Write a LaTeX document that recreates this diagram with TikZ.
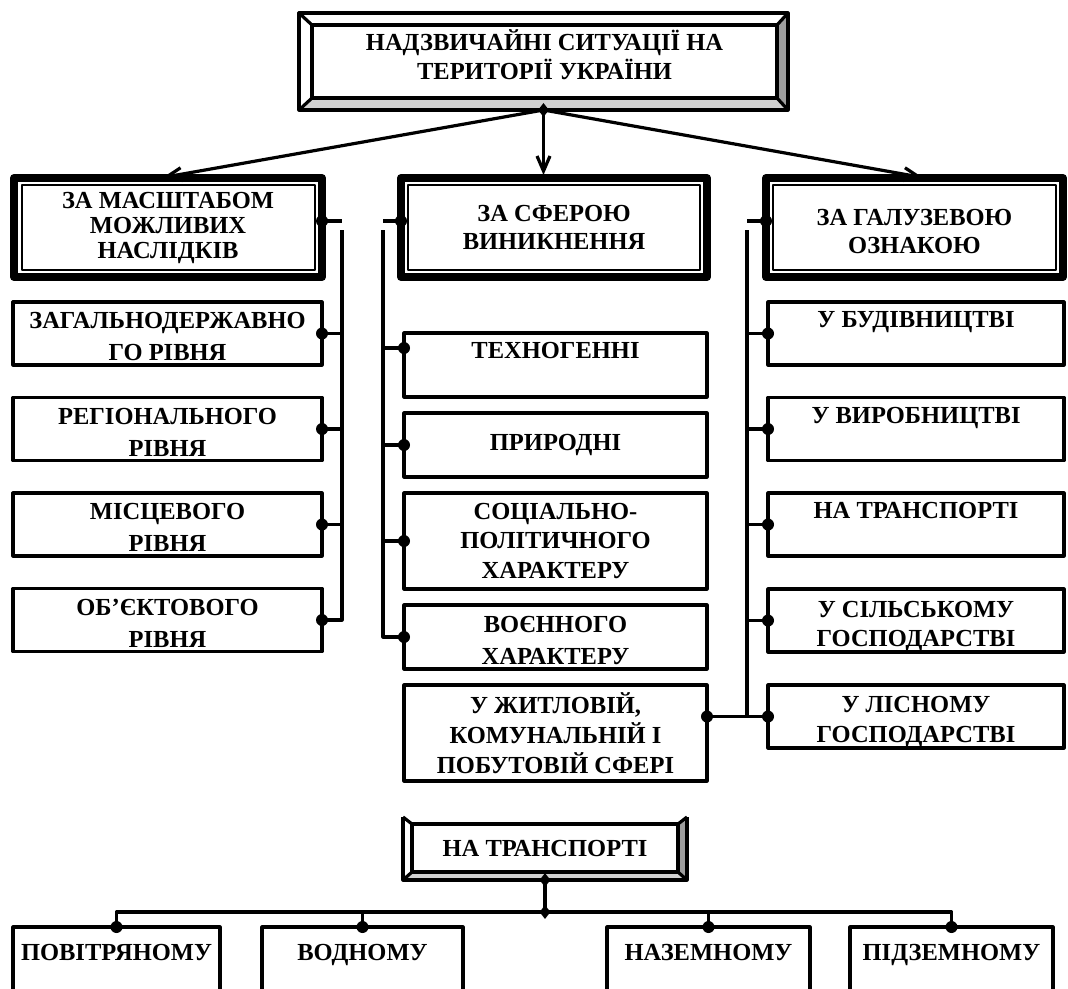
\documentclass[tikz,border=0pt]{standalone}
\usepackage{fontspec}
\setmainfont{Liberation Serif}[BoldFont={Liberation Serif Bold}]
\usetikzlibrary{positioning, arrows.meta, shapes.geometric, calc}
\definecolor{bevlight}{gray}{0.82}
\definecolor{bevdark}{gray}{0.62}
\tikzset{
  subbox/.style={draw, rectangle, line width=3.2pt, inner sep=0pt, outer sep=0pt, align=center,
    font=\bfseries\fontsize{24.5}{32}\selectfont},
  catbox/.style={subbox, line width=8pt, font=\bfseries\fontsize{24.5}{28}\selectfont},
  bevbox/.style={rectangle, inner sep=0pt, outer sep=0pt, align=center, font=\bfseries\fontsize{24.5}{29}\selectfont},
  uptext/.style={text height=17pt, text depth=29pt},
  lowtext/.style={text height=54pt, text depth=0pt},
  jdot/.style={circle, fill, inner sep=0pt, minimum size=12pt},
  dmd/.style={diamond, fill, inner sep=0pt, minimum width=11pt, minimum height=14pt},
  link/.style={line width=3.2pt},
  arr/.style={link, shorten >=3pt, -{Straight Barb[length=15pt,width=13pt]}},
}

\begin{document}
\begin{tikzpicture}[x=1pt, y=-1pt, line join=round]
\useasboundingbox (0,0) rectangle (1068,988);
\clip (0,0) rectangle (1068,988);

% title box with bevel
\node[bevbox, minimum width=465pt, minimum height=73pt, text depth=14pt] (ttl) at (544.5,61.5) {НАДЗВИЧАЙНІ СИТУАЦІЇ НА\\ТЕРИТОРІЇ УКРАЇНИ};
\coordinate (tA) at ([shift={(-13pt,12pt)}]ttl.north west);
\coordinate (tB) at ([shift={(11pt,12pt)}]ttl.north east);
\coordinate (tC) at ([shift={(11pt,-12pt)}]ttl.south east);
\coordinate (tD) at ([shift={(-13pt,-12pt)}]ttl.south west);
\fill[bevlight] (tD) -- (tC) -- (ttl.south east) -- (ttl.south west) -- cycle;
\fill[bevdark] (tB) -- (tC) -- (ttl.south east) -- (ttl.north east) -- cycle;
\draw[link] (tA) rectangle (tC);
\draw[link] (ttl.north west) rectangle (ttl.south east);
\draw[link] (tA) -- (ttl.north west) (tB) -- (ttl.north east) (tC) -- (ttl.south east) (tD) -- (ttl.south west);

% three groups
\node[catbox, minimum width=308pt, minimum height=99pt, font=\bfseries\fontsize{24.5}{25}\selectfont] (c1) at (168,227.5) {ЗА МАСШТАБОМ\\МОЖЛИВИХ\\НАСЛІДКІВ};
\node[catbox, minimum width=306pt, minimum height=99pt] (c2) at (554,227.5) {ЗА СФЕРОЮ\\ВИНИКНЕННЯ};
\node[catbox, minimum width=297pt, minimum height=99pt, text height=51pt, text depth=0pt] (c3) at (914.5,227.5) {ЗА ГАЛУЗЕВОЮ\\ОЗНАКОЮ};
\draw[line width=2.2pt] ([shift={(8pt,-7pt)}]c1.north west) rectangle ([shift={(-7pt,7pt)}]c1.south east);
\draw[line width=2.2pt] ([shift={(7pt,-7pt)}]c2.north west) rectangle ([shift={(-7pt,7pt)}]c2.south east);
\draw[line width=2.2pt] ([shift={(7pt,-7pt)}]c3.north west) rectangle ([shift={(-7pt,7pt)}]c3.south east);

\node[dmd] (tdm) at ($(tD)!0.5!(tC)$) {};
\draw[arr] (tdm.center) -- ([xshift=-8pt]c1.north);
\draw[arr] (tdm.center) -- (tdm |- c2.north);
\draw[arr] (tdm.center) -- ([xshift=11pt]c3.north);

% left column
\node[subbox, lowtext, minimum width=309pt, minimum height=63pt] (l1) at (167.5,333.5) {ЗАГАЛЬНОДЕРЖАВНО\\ГО РІВНЯ};
\node[subbox, lowtext, minimum width=309pt, minimum height=63pt, below=32.5pt of l1] (l2) {РЕГІОНАЛЬНОГО\\РІВНЯ};
\node[subbox, lowtext, minimum width=309pt, minimum height=63pt, below=32.5pt of l2] (l3) {МІСЦЕВОГО\\РІВНЯ};
\node[subbox, lowtext, minimum width=309pt, minimum height=63pt, below=32.5pt of l3] (l4) {ОБ’ЄКТОВОГО\\РІВНЯ};

% middle column
\node[subbox, uptext, text depth=31pt, minimum width=303pt, minimum height=64pt] (m1) at (555.5,365) {ТЕХНОГЕННІ};
\node[subbox, minimum width=303pt, minimum height=64pt, below=16pt of m1] (m2) {ПРИРОДНІ};
\node[subbox, minimum width=303pt, minimum height=96pt, below=16pt of m2, font=\bfseries\fontsize{24.5}{29.5}\selectfont] (m3) {СОЦІАЛЬНО-\\ПОЛІТИЧНОГО\\ХАРАКТЕРУ};
\node[subbox, lowtext, minimum width=303pt, minimum height=64pt, below=16pt of m3] (m4) {ВОЄННОГО\\ХАРАКТЕРУ};
\node[subbox, minimum width=303pt, minimum height=96pt, below=16pt of m4, font=\bfseries\fontsize{24.5}{30}\selectfont] (m5) {У ЖИТЛОВІЙ,\\КОМУНАЛЬНІЙ І\\ПОБУТОВІЙ СФЕРІ};

% right column
\node[subbox, uptext, minimum width=296pt, minimum height=63pt] (r1) at (916,333.5) {У БУДІВНИЦТВІ};
\node[subbox, uptext, minimum width=296pt, minimum height=63pt, below=32.5pt of r1] (r2) {У ВИРОБНИЦТВІ};
\node[subbox, uptext, minimum width=296pt, minimum height=63pt, below=32.5pt of r2] (r3) {НА ТРАНСПОРТІ};
\node[subbox, minimum width=296pt, minimum height=63pt, below=33pt of r3, text height=52pt, text depth=0pt, font=\bfseries\fontsize{24.5}{29}\selectfont] (r4) {У СІЛЬСЬКОМУ\\ГОСПОДАРСТВІ};
\node[subbox, minimum width=296pt, minimum height=63pt, below=33pt of r4, text height=52pt, text depth=0pt, font=\bfseries\fontsize{24.5}{30}\selectfont] (r5) {У ЛІСНОМУ\\ГОСПОДАРСТВІ};

% dots
\node[jdot] (c1d) at ([yshift=6.5pt]c1.east) {};
\node[jdot] (c2d) at ([yshift=6.5pt]c2.west) {};
\node[jdot] (c3d) at ([yshift=6.5pt]c3.west) {};
\node[jdot] (l1d) at (l1.east) {};
\node[jdot] (l2d) at (l2.east) {};
\node[jdot] (l3d) at (l3.east) {};
\node[jdot] (l4d) at (l4.east) {};
\node[jdot] (m1d) at ([yshift=17pt]m1.west) {};
\node[jdot] (m2d) at (m2.west) {};
\node[jdot] (m3d) at (m3.west) {};
\node[jdot] (m4d) at (m4.west) {};
\node[jdot] (r1d) at (r1.west) {};
\node[jdot] (r2d) at (r2.west) {};
\node[jdot] (r3d) at (r3.west) {};
\node[jdot] (r4d) at (r4.west) {};
\node[jdot] (r5d) at (r5.west) {};
\node[jdot] (m5d) at (m5.east |- r5.west) {};

% buses
\coordinate (lbus) at (342,230);
\coordinate (mbus) at (383,230);
\coordinate (rbus) at (747,230);
\draw[link] (c1d.center) -- (c1d -| lbus);
\draw[link] (c2d.center) -- (c2d -| mbus);
\draw[link] (c3d.center) -- (c3d -| rbus);
\draw[link] (lbus) |- (l4d.center);
\draw[link] (l1d.center) -- (l1d -| lbus) (l2d.center) -- (l2d -| lbus) (l3d.center) -- (l3d -| lbus);
\draw[link] (mbus) |- (m4d.center);
\draw[link] (m1d.center) -- (m1d -| mbus) (m2d.center) -- (m2d -| mbus) (m3d.center) -- (m3d -| mbus);
\draw[link] (rbus) |- (r5d.center);
\draw[link] (r1d.center) -- (r1d -| rbus) (r2d.center) -- (r2d -| rbus) (r3d.center) -- (r3d -| rbus) (r4d.center) -- (r4d -| rbus);
\draw[link] (m5d.center) -- (r5d.center);

% transport box with bevel
\node[bevbox, minimum width=266pt, minimum height=48pt] (trn) at (545,848) {НА ТРАНСПОРТІ};
\coordinate (bA) at ([shift={(-9pt,7pt)}]trn.north west);
\coordinate (bB) at ([shift={(9pt,7pt)}]trn.north east);
\coordinate (bC) at ([shift={(9pt,-8pt)}]trn.south east);
\coordinate (bD) at ([shift={(-9pt,-8pt)}]trn.south west);
\fill[bevlight] (bD) -- (bC) -- (trn.south east) -- (trn.south west) -- cycle;
\fill[bevdark] (bB) -- (bC) -- (trn.south east) -- (trn.north east) -- cycle;
\draw[link] (bA) -- (bD) -- (bC) -- (bB);
\draw[link] (trn.north west) rectangle (trn.south east);
\draw[link] (bA) -- (trn.north west) (bB) -- (trn.north east) (bC) -- (trn.south east) (bD) -- (trn.south west);

% kinds of transport
\node[subbox, text height=17pt, text depth=41pt, minimum width=207pt, minimum height=90pt] (b1) at (116.5,972) {ПОВІТРЯНОМУ};
\node[subbox, text height=17pt, text depth=41pt, minimum width=201pt, minimum height=90pt] (b2) at (362.5,972) {ВОДНОМУ};
\node[subbox, text height=17pt, text depth=41pt, minimum width=203pt, minimum height=90pt] (b3) at (708.5,972) {НАЗЕМНОМУ};
\node[subbox, text height=17pt, text depth=41pt, minimum width=203pt, minimum height=90pt] (b4) at (951.5,972) {ПІДЗЕМНОМУ};

\node[dmd] (bdm1) at ($(bD)!0.5!(bC)$) {};
\node[dmd] (bdm2) at (545,912) {};
\draw[link] (bdm1.center) -- (bdm2.center);
\draw[link] (b1.north) |- (bdm2.center) -| (b4.north);
\draw[link] (b2.north) -- (b2.north |- bdm2) (b3.north) -- (b3.north |- bdm2);
\node[jdot] (b1d) at (b1.north) {};
\node[jdot] (b2d) at (b2.north) {};
\node[jdot] (b3d) at (b3.north) {};
\node[jdot] (b4d) at (b4.north) {};
\end{tikzpicture}
\end{document}
